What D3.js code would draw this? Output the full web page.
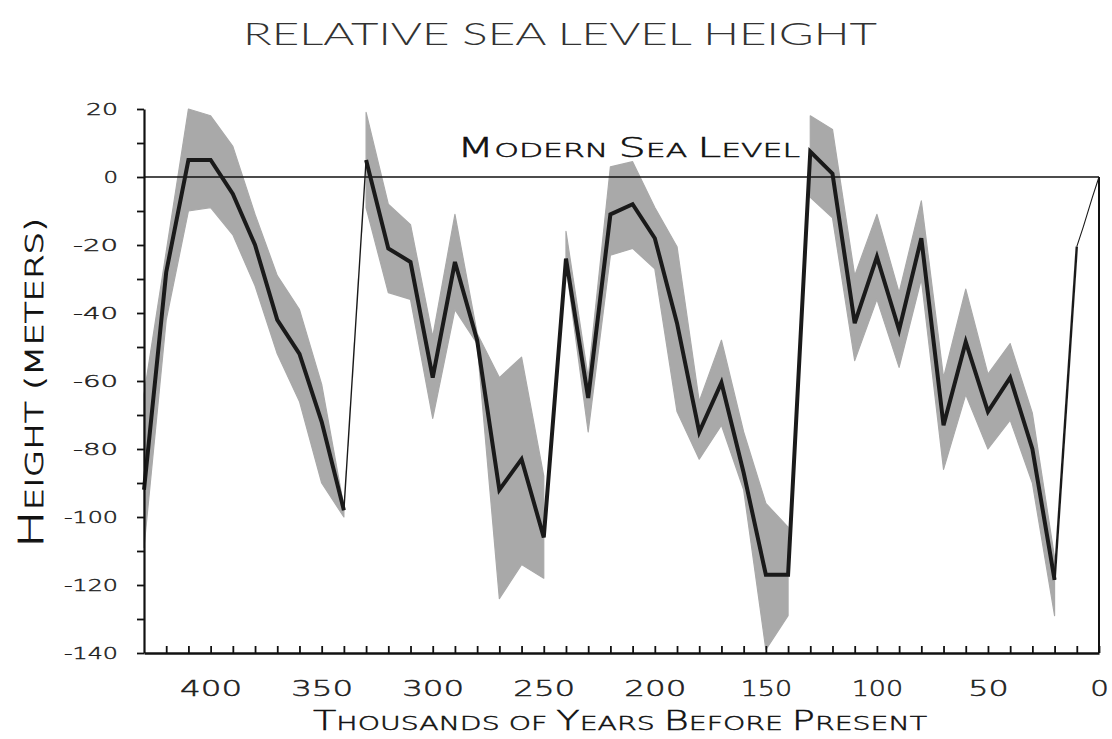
<!DOCTYPE html>
<html>
<head>
<meta charset="utf-8">
<script src="https://cdn.jsdelivr.net/npm/d3@7"></script>
<style>
  html, body { margin: 0; padding: 0; background: #ffffff; }
  svg { display: block; }
</style>
</head>
<body>
<svg id="chart" width="1112" height="739"></svg>
<script>
// ---- Data (thousands of years before present, metres) ----
const kyr = [430,420,410,400,390,380,370,360,350,340,
             330,320,310,300,290,280,270,260,250,
             240,230,220,210,200,190,180,170,160,150,140,
             130,120,110,100,90,80,70,60,50,40,30,20,
             10,7,3,0];
const seaLevel = [-92,-28,5,5,-5,-20,-42,-52,-72,-98,
                  5,-21,-25,-59,-25,-48,-92,-83,-106,
                  -24,-65,-11,-8,-18,-43,-75,-60.5,-87,-117,-117,
                  7.5,1,-43,-23.5,-45,-18,-73,-48.5,-69,-59,-80,-118.5,
                  -20.5,-14.5,-6,0];
const upperBound = [-64,-22,20,18,9,-11,-29,-39,-61,-97,
                    19,-8,-14,-47,-11,-46,-59,-53,-88,
                    -16,-59,3,4.5,-9,-20.5,-66,-48,-75,-96,-103,
                    18,14,-29,-11,-34,-7,-59,-33,-58,-49,-69.5,-112,
                    null,null,null,null];
const lowerBound = [-109,-42,-10,-9,-17,-32,-52,-66,-90,-100,
                    -9,-34,-36,-71,-39,-49,-124,-114,-118,
                    -26,-75,-23,-21,-27,-69,-83,-73,-92,-139,-129,
                    -6,-12,-54,-36,-56,-30,-86,-64,-80,-71.5,-90,-129,
                    null,null,null,null];
// glacial cycles (band drawn separately for each)
const bandCycles = [[430,340],[330,250],[240,140],[130,20]];
// main record and connecting segments
const mainSpans = [[430,340],[330,20]];
const connectorSpans = [[340,330],[20,10],[10,0]];

const yTicks = [-140,-130,-120,-110,-100,-90,-80,-70,-60,-50,-40,-30,-20,-10,0,10,20];
const yLabels = [-140,-120,-100,-80,-60,-40,-20,0,20];
const xTicks = [420,410,400,390,380,370,360,350,340,330,320,310,300,290,280,270,260,250,240,230,220,210,200,190,180,170,160,150,140,130,120,110,100,90,80,70,60,50,40,30,20,10,0];
const xLabels = [400,350,300,250,200,150,100,50,0];

const chartTitle = "RELATIVE SEA LEVEL HEIGHT";
const refLabel = [["M","ODERN "],["S","EA "],["L","EVEL"]];
const yTitle = [["H","EIGHT "],["","(METERS)"]];
const xTitle = [["T","HOUSANDS OF "],["Y","EARS "],["B","EFORE "],["P","RESENT"]];

// ---- Drawing ----
const svg = d3.select("#chart");
const x = d3.scaleLinear().domain([430, 0]).range([144, 1099]);
const y = d3.scaleLinear().domain([-140, 20]).range([653, 109]);

const rows = kyr.map((k, i) => ({k, v: seaLevel[i], hi: upperBound[i], lo: lowerBound[i]}));
const inSpan = (s) => (d) => d.k <= s[0] && d.k >= s[1];

// bands
const area = d3.area().x(d => x(d.k)).y0(d => y(d.lo)).y1(d => y(d.hi));
svg.append("g").selectAll("path").data(bandCycles).join("path")
  .attr("d", c => area(rows.filter(inSpan(c))))
  .attr("fill", "#a9a9a9").attr("stroke", "#a9a9a9").attr("stroke-width", 1.2)
  .attr("stroke-linejoin", "round");

// zero line
svg.append("line")
  .attr("x1", x(430)).attr("x2", x(0)).attr("y1", y(0)).attr("y2", y(0))
  .attr("stroke", "#111").attr("stroke-width", 1.6);
// right border below zero
svg.append("line")
  .attr("x1", x(0)).attr("x2", x(0)).attr("y1", y(0)).attr("y2", y(-140))
  .attr("stroke", "#111").attr("stroke-width", 2);

// lines
const line = d3.line().x(d => x(d.k)).y(d => y(d.v));
const connWidths = [1.4, 2.4, 1.1];
svg.append("g").selectAll("path").data(connectorSpans).join("path")
  .attr("d", s => line(rows.filter(inSpan(s))))
  .attr("fill", "none").attr("stroke", "#1a1a1a")
  .attr("stroke-width", (s, i) => connWidths[i]);
svg.append("g").selectAll("path").data(mainSpans).join("path")
  .attr("d", s => line(rows.filter(inSpan(s))))
  .attr("fill", "none").attr("stroke", "#1a1a1a").attr("stroke-width", 4)
  .attr("stroke-linejoin", "miter").attr("stroke-miterlimit", 4);

// label width helper for the extended numeral face
function numWidth(str, digitW, oneW, dashW) {
  let w = 0;
  for (const ch of str) w += ch === "1" ? oneW : (ch === "-" ? dashW : digitW);
  return w - 3;
}

// y axis
const yAxis = d3.axisLeft(y).tickValues(yTicks).tickSize(7).tickSizeOuter(0).tickPadding(19)
  .tickFormat(d => yLabels.includes(d) ? String(d) : "");
const gy = svg.append("g").attr("transform", `translate(${x(430)},0)`).call(yAxis);
gy.select(".domain").attr("stroke", "#111").attr("stroke-width", 2.2);
gy.selectAll(".tick line").attr("stroke", "#111").attr("stroke-width", 1.8);
gy.selectAll(".tick text")
  .attr("font-family", "DejaVu Sans, sans-serif").attr("font-size", 16).attr("font-weight", 200)
  .attr("fill", "#1e1e1e").attr("stroke", "#1e1e1e").attr("stroke-width", 0.45)
  .each(function(d) {
    const s = yLabels.includes(d) ? String(d) : "";
    if (s) d3.select(this).attr("textLength", numWidth(s, 17.5, 9, 13)).attr("lengthAdjust", "spacingAndGlyphs");
  });

// x axis
const xAxis = d3.axisBottom(x).tickValues(xTicks).tickSizeInner(-7).tickSizeOuter(0).tickPadding(27)
  .tickFormat(d => xLabels.includes(d) ? String(d) : "");
const gx = svg.append("g").attr("transform", `translate(0,${y(-140)})`).call(xAxis);
gx.select(".domain").attr("stroke", "#111").attr("stroke-width", 2.6);
gx.selectAll(".tick line").attr("stroke", "#111").attr("stroke-width", 1.8);
gx.selectAll(".tick text")
  .attr("font-family", "DejaVu Sans, sans-serif").attr("font-size", 22).attr("font-weight", 200)
  .attr("fill", "#1e1e1e").attr("stroke", "#1e1e1e").attr("stroke-width", 0.5)
  .each(function(d) {
    const s = xLabels.includes(d) ? String(d) : "";
    if (s) d3.select(this).attr("textLength", numWidth(s, 21.7, 11, 13)).attr("lengthAdjust", "spacingAndGlyphs");
  });

// small-caps text helper
function smallCaps(sel, parts, big, small) {
  parts.forEach(([cap, rest]) => {
    if (cap) sel.append("tspan").attr("font-size", big).text(cap);
    sel.append("tspan").attr("font-size", small).text(rest);
  });
}

// title
svg.append("text")
  .attr("x", 560).attr("y", 45).attr("text-anchor", "middle")
  .attr("font-family", "Lato, 'Open Sans', sans-serif").attr("font-weight", 300)
  .attr("font-size", 32).attr("fill", "#333")
  .attr("textLength", 634).attr("lengthAdjust", "spacingAndGlyphs")
  .text(chartTitle);

// modern sea level label
const ref = svg.append("text")
  .attr("x", 457).attr("y", 157)
  .attr("font-family", "DejaVu Sans, sans-serif").attr("font-weight", 200)
  .attr("fill", "#111").attr("stroke", "#111").attr("stroke-width", 0.5)
  .attr("textLength", 343).attr("lengthAdjust", "spacingAndGlyphs");
smallCaps(ref, refLabel, 26, 19);

// y title
const yt = svg.append("text")
  .attr("transform", "translate(43,383) rotate(-90)").attr("text-anchor", "middle")
  .attr("font-family", "DejaVu Sans, sans-serif").attr("font-weight", 200)
  .attr("fill", "#111").attr("stroke", "#111").attr("stroke-width", 0.7)
  .attr("textLength", 330).attr("lengthAdjust", "spacingAndGlyphs");
smallCaps(yt, yTitle, 34, 24);

// x title
const xt = svg.append("text")
  .attr("x", 620).attr("y", 730).attr("text-anchor", "middle")
  .attr("font-family", "DejaVu Sans, sans-serif").attr("font-weight", 200)
  .attr("fill", "#111").attr("stroke", "#111").attr("stroke-width", 0.5)
  .attr("textLength", 614).attr("lengthAdjust", "spacingAndGlyphs");
smallCaps(xt, xTitle, 27, 20);
</script>
</body>
</html>
